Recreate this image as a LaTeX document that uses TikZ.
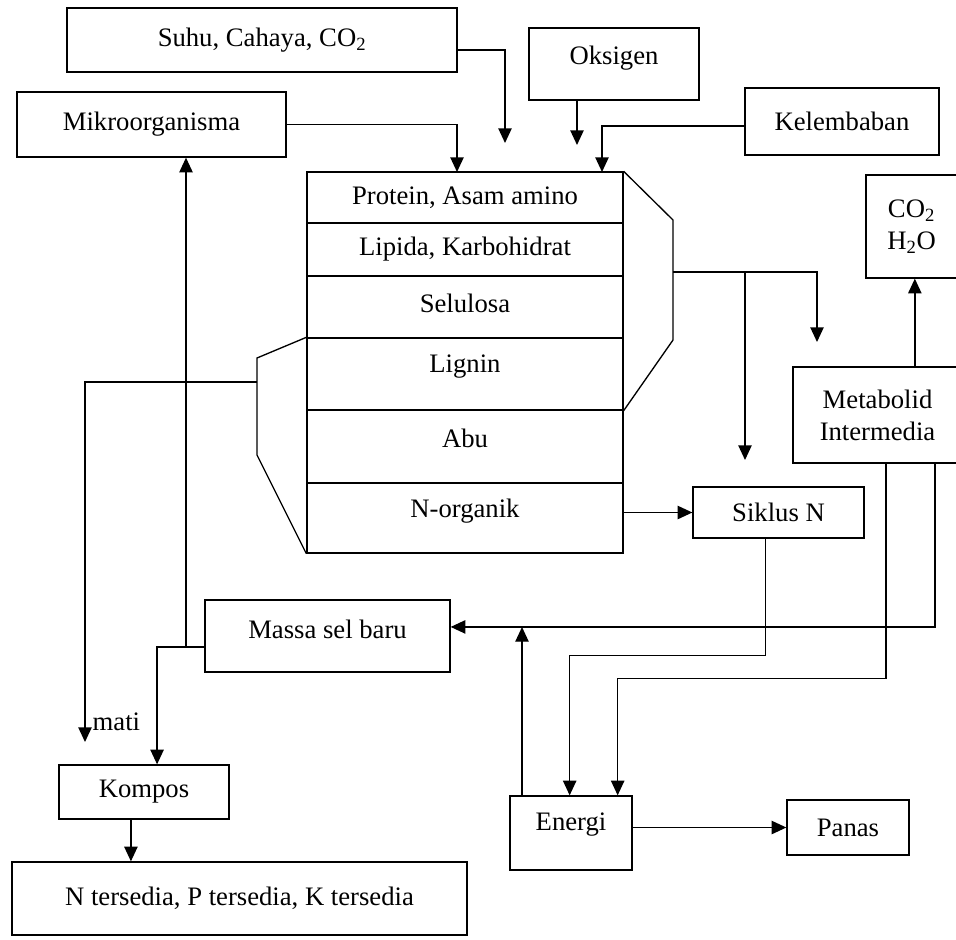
\documentclass[tikz,border=0pt]{standalone}
\usepackage{fontspec}
\setmainfont{Liberation Serif}
\usetikzlibrary{arrows.meta}
\tikzset{
  box/.style={draw, rectangle, inner sep=1pt, align=center},
  dims/.style 2 args={minimum width=#1*0.75pt, minimum height=#2*0.75pt},
  arr/.style={-{Triangle[length=11pt,width=10pt]}},
}
\begin{document}
\begin{tikzpicture}[x=0.75pt,y=-0.75pt,line width=1pt,font=\fontsize{20}{24}\selectfont]
\useasboundingbox (0,0) rectangle (956,939);
% faktor luar
\node[box,dims={390}{64}] (suhu) at (262,40) {Suhu, Cahaya, CO\textsubscript{2}};
\node[box,dims={269}{65}] (mikro) at (151.5,124.5) {Mikroorganisma};
\node[box,dims={170}{72},text depth=13pt] (oksigen) at (614,64) {Oksigen};
\node[box,dims={194}{67}] (lembab) at (842,121.5) {Kelembaban};
\node[box,dims={91}{103}] (co2) at (911.5,226.5) {CO\textsubscript{2}\\H\textsubscript{2}O};
% bahan organik
\node[box,dims={316}{51}] (protein) at (465,197.5) {Protein, Asam amino};
\node[box,dims={316}{53}] (lipida) at (465,249.5) {Lipida, Karbohidrat};
\node[box,dims={316}{62},text depth=5pt] (selulosa) at (465,307) {Selulosa};
\node[box,dims={316}{72},text depth=16pt] (lignin) at (465,374) {Lignin};
\node[box,dims={316}{73},text depth=12pt] (abu) at (465,446.5) {Abu};
\node[box,dims={316}{70},text depth=14pt] (norg) at (465,518) {N-organik};
\draw (protein.north east) -- (673,220) -- (673,340) -- (lignin.south east);
\draw (lignin.north west) -- (257,358) -- (257,455) -- (norg.south west);
% hasil
\node[box,dims={169}{96}] (metab) at (877.5,415) {Metabolid\\Intermedia};
\node[box,dims={171}{51}] (siklus) at (778.5,512.5) {Siklus N};
\node[box,dims={245}{72},text depth=10pt] (massa) at (327.5,636) {Massa sel baru};
\node[box,dims={170}{54}] (kompos) at (144,792) {Kompos};
\node[box,dims={122}{74},text depth=17pt] (energi) at (571,833) {Energi};
\node[box,dims={122}{55}] (panas) at (848,827.5) {Panas};
\node[box,dims={455}{73}] (ntersedia) at (239.5,898.5) {N tersedia, P tersedia, K tersedia};
\node[anchor=west,inner sep=0pt] (mati) at (92,722) {mati};

\coordinate (in1) at (505,143);
\coordinate (in2) at (577,145);
\coordinate (in3) at (602,172);
\coordinate (in4) at (457,172);
\coordinate (rb) at (673,272);
\coordinate (lb) at (257,382);
\coordinate (m1) at (817,342);
\coordinate (s1) at (745,460);
\coordinate (e1) at (522,627);
\coordinate (j1) at (186,647);
\coordinate (d1) at (85,742);

\draw[arr] ([yshift=-7.5pt]suhu.east) -| (in1);
\draw[arr] (oksigen.south -| in2) -- (in2);
\draw[arr] ([yshift=-3.4pt]lembab.west) -| (in3);
\draw[arr] (mikro.east) -| (in4);
\draw[arr] (rb) -| (m1);
\draw[arr] (rb -| s1) -- (s1);
\draw[arr] (norg.east |- siklus.west) -- (siklus.west);
\draw[arr] ([xshift=-10pt]siklus.south) -- ++(0,117) -| ([xshift=-1pt]energi.north);
\draw[arr] ([xshift=6.4pt]metab.south) -- ++(0,215) -| ([xshift=35pt]energi.north);
\draw[arr] ([xshift=43pt]metab.south) |- ([yshift=6.8pt]massa.east);
\draw[arr] ([xshift=28pt]metab.north) -- ([xshift=28pt]metab.north |- co2.south);
\draw[arr] (energi.north -| e1) -- (e1);
\draw[arr] (energi.east |- panas.west) -- (panas.west);
\draw[arr] ([yshift=-8.2pt]massa.west) -| ([xshift=9.8pt]kompos.north);
\draw[arr] (j1) -- (j1 |- mikro.south);
\draw[arr] (lb) -| (d1);
\draw[arr] ([xshift=-9.8pt]kompos.south) -- ([xshift=-9.8pt]kompos.south |- ntersedia.north);
\end{tikzpicture}
\end{document}
